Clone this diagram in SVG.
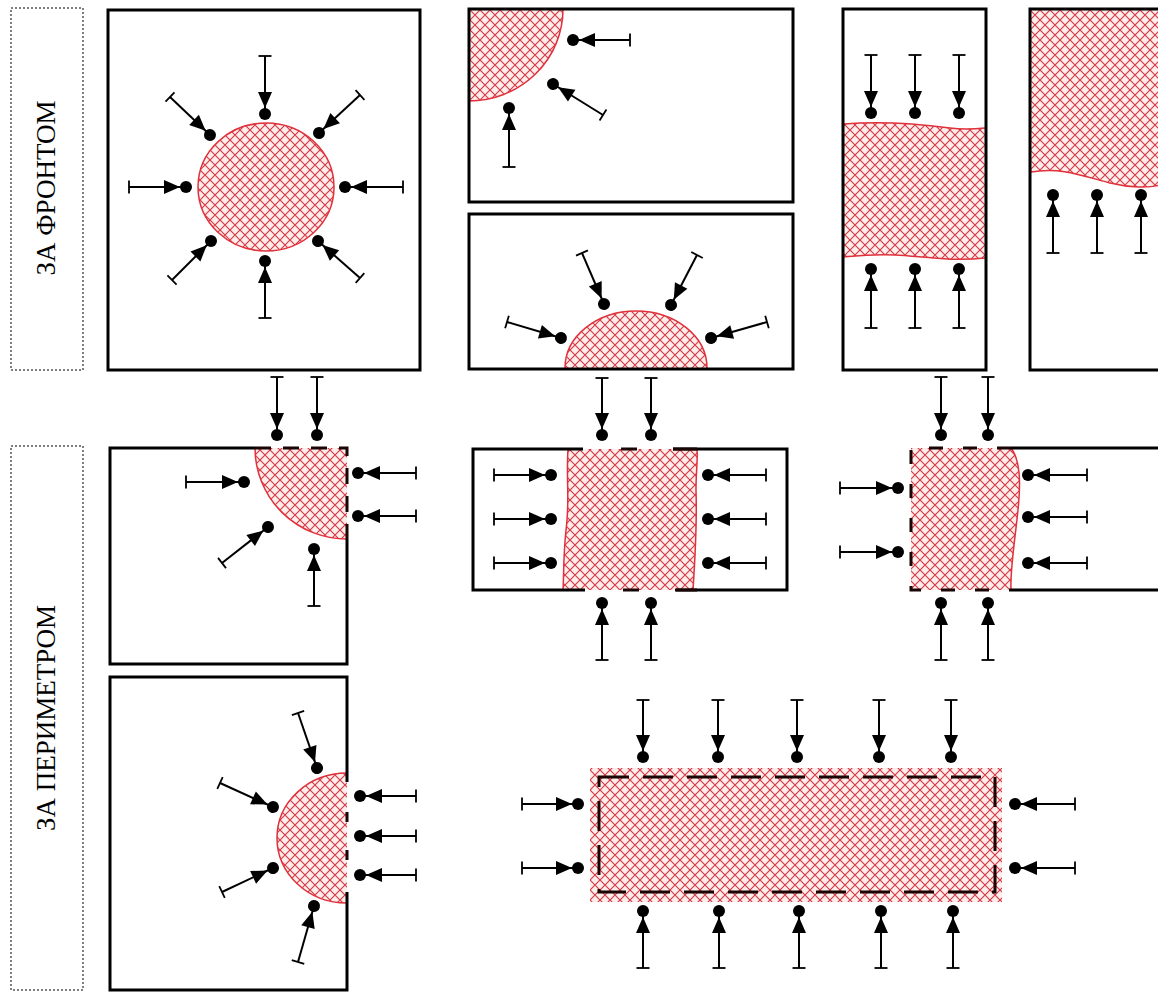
<svg xmlns="http://www.w3.org/2000/svg" width="1158" height="992" viewBox="0 0 1158 992">
<style>
.panel{fill:none;stroke:#000;stroke-width:3}
.hatch{fill:url(#xh);stroke:none}
.edge{fill:none;stroke:#e0303a;stroke-width:1.5}
.dash{fill:none;stroke:#1a0505;stroke-width:3;stroke-dasharray:16 12}
.lbl{fill:#fff;stroke:#555;stroke-width:1.5;stroke-dasharray:2 2}
.txt{font-family:"Liberation Serif","Times New Roman",serif;font-size:27px;fill:#000;text-anchor:middle}
.ar{fill:none;stroke:#000;stroke-width:2;marker-start:url(#tail);marker-end:url(#head)}
</style>
<defs>
<pattern id="xh" patternUnits="userSpaceOnUse" width="10" height="10">
<rect width="10" height="10" fill="#fdeeec"/>
<path d="M-1,-1 L11,11 M11,-1 L-1,11" stroke="#d63a48" stroke-width="1.2"/>
</pattern>
<marker id="head" viewBox="-24 -8 32 16" refX="0" refY="0" markerWidth="32" markerHeight="16" markerUnits="userSpaceOnUse" orient="auto">
<polygon points="-22,-7 -6,0 -22,7" fill="#000"/>
<circle cx="0" cy="0" r="6" fill="#000"/>
</marker>
<marker id="tail" viewBox="-2 -8 4 16" refX="0" refY="0" markerWidth="4" markerHeight="16" markerUnits="userSpaceOnUse" orient="auto">
<line x1="0" y1="-6.5" x2="0" y2="6.5" stroke="#000" stroke-width="1.8"/>
</marker>
</defs>
<rect width="1158" height="992" fill="#fff"/>

<g id="label-front">
<rect class="lbl" x="11" y="8" width="72" height="362"/>
<text class="txt" transform="translate(55,188) rotate(-90)">ЗА ФРОНТОМ</text>
</g>
<g id="label-perimeter">
<rect class="lbl" x="11" y="446" width="72" height="544"/>
<text class="txt" transform="translate(55,718) rotate(-90)">ЗА ПЕРИМЕТРОМ</text>
</g>

<g id="panel-a">
<ellipse class="hatch" cx="266" cy="187" rx="68" ry="64"/>
<ellipse class="edge" cx="266" cy="187" rx="68" ry="64"/>
<rect class="panel" x="108" y="10" width="312" height="360"/>
</g>

<g id="panel-b">
<path class="hatch" d="M469,9 L563,9 A94,92 0 0 1 469,101 Z"/>
<path class="edge" d="M563,9 A94,92 0 0 1 469,101"/>
<rect class="panel" x="469" y="9" width="324" height="193"/>
</g>

<g id="panel-c">
<path class="hatch" d="M565,368 A71,57 0 0 1 707,368 Z"/>
<path class="edge" d="M565,368 A71,57 0 0 1 707,368"/>
<rect class="panel" x="469" y="214" width="324" height="155"/>
</g>

<g id="panel-d">
<path class="hatch" d="M844,124 C880,121 920,124 950,128 C965,130 975,129 985,128 L985,258 C950,262 920,256 895,255 C870,254 855,256 844,257 Z"/>
<path class="edge" d="M844,124 C880,121 920,124 950,128 C965,130 975,129 985,128 M985,258 C950,262 920,256 895,255 C870,254 855,256 844,257"/>
<rect class="panel" x="843" y="9" width="143" height="361"/>
</g>

<g id="panel-e">
<path class="hatch" d="M1031,9 L1160,9 L1160,185 C1150,188 1130,188 1110,183 C1080,175 1060,167 1031,172 Z"/>
<path class="edge" d="M1160,185 C1150,188 1130,188 1110,183 C1080,175 1060,167 1031,172"/>
<rect class="panel" x="1030" y="9" width="200" height="361"/>
</g>

<g id="panel-f">
<path class="hatch" d="M255,448 A92,91 0 0 0 347,539 L347,448 Z"/>
<path class="edge" d="M255,448 A92,91 0 0 0 347,539"/>
<path class="panel" d="M255,448 L110,448 L110,664 L347,664 L347,539"/>
<path class="dash" d="M255,448 L347,448 L347,539"/>
</g>

<g id="panel-g">
<path class="hatch" d="M568,449 C566,480 570,500 566,530 C563,560 564,575 563,590 L693,590 C695,560 697,520 696,490 C696,470 698,460 697,449 Z"/>
<path class="edge" d="M568,449 C566,480 570,500 566,530 C563,560 564,575 563,590 M693,590 C695,560 697,520 696,490 C696,470 698,460 697,449"/>
<path class="panel" d="M583,449 L473,449 L473,590 L585,590 M673,449 L787,449 L787,590 L676,590"/>
<path class="dash" d="M583,449 L697,449 M585,590 L697,590" style="stroke-dasharray:0 38 16 36 30"/>
</g>

<g id="panel-h">
<path class="hatch" d="M911,448 L1011,448 C1020,460 1021,480 1018,510 C1015,540 1010,570 1011,590 L911,590 Z"/>
<path class="edge" d="M1011,448 C1020,460 1021,480 1018,510 C1015,540 1010,570 1011,590"/>
<path class="panel" d="M1011,448 L1160,448 M1011,590 L1160,590"/>
<path class="dash" d="M1011,448 L911,448 L911,590 L1011,590" style="stroke-dasharray:14 20"/>
</g>

<g id="panel-i">
<path class="hatch" d="M347,773 A70,65 0 0 0 347,903 Z"/>
<path class="edge" d="M347,773 A70,65 0 0 0 347,903"/>
<path class="panel" d="M347,782 L347,677 L110,677 L110,990 L347,990 L347,892"/>
<path class="dash" d="M347,782 L347,892" style="stroke-dasharray:0 30 10 28 10 40"/>
</g>

<g id="panel-j">
<rect class="hatch" x="590" y="768" width="412" height="134"/>
<rect class="dash" x="599" y="777" width="396" height="115" style="stroke-dasharray:30 14"/>
</g>

<g id="arrows">
<path class="ar" d="M265,56 L265,114"/>
<path class="ar" d="M265,318 L265,261"/>
<path class="ar" d="M129,187 L186,187"/>
<path class="ar" d="M403,187 L345,187"/>
<path class="ar" d="M170,97 L210,135"/>
<path class="ar" d="M360,95 L319,133"/>
<path class="ar" d="M172,280 L211,241"/>
<path class="ar" d="M360,278 L318,241"/>

<path class="ar" d="M630,40 L573,40"/>
<path class="ar" d="M603,115 L553,84"/>
<path class="ar" d="M509,167 L509,108"/>

<path class="ar" d="M507,322 L561,338"/>
<path class="ar" d="M582,253 L604,304"/>
<path class="ar" d="M697,255 L671,305"/>
<path class="ar" d="M767,322 L711,338"/>

<path class="ar" d="M871,55 L871,113"/>
<path class="ar" d="M915,55 L915,113"/>
<path class="ar" d="M959,55 L959,113"/>
<path class="ar" d="M871,328 L871,269"/>
<path class="ar" d="M915,328 L915,269"/>
<path class="ar" d="M959,328 L959,269"/>

<path class="ar" d="M1053,253 L1053,195"/>
<path class="ar" d="M1097,253 L1097,195"/>
<path class="ar" d="M1141,253 L1141,195"/>

<path class="ar" d="M277,377 L277,435"/>
<path class="ar" d="M317,377 L317,435"/>
<path class="ar" d="M416,473 L358,473"/>
<path class="ar" d="M416,516 L358,516"/>
<path class="ar" d="M186,482 L244,482"/>
<path class="ar" d="M222,563 L268,527"/>
<path class="ar" d="M314,606 L314,549"/>

<path class="ar" d="M602,378 L602,435"/>
<path class="ar" d="M651,378 L651,435"/>
<path class="ar" d="M602,660 L602,603"/>
<path class="ar" d="M651,660 L651,603"/>
<path class="ar" d="M494,475 L551,475"/>
<path class="ar" d="M494,519 L551,519"/>
<path class="ar" d="M494,563 L551,563"/>
<path class="ar" d="M766,475 L708,475"/>
<path class="ar" d="M766,519 L708,519"/>
<path class="ar" d="M766,563 L708,563"/>

<path class="ar" d="M941,377 L941,435"/>
<path class="ar" d="M988,377 L988,435"/>
<path class="ar" d="M941,660 L941,603"/>
<path class="ar" d="M988,660 L988,603"/>
<path class="ar" d="M840,488 L898,488"/>
<path class="ar" d="M840,552 L898,552"/>
<path class="ar" d="M1087,475 L1028,475"/>
<path class="ar" d="M1087,517 L1028,517"/>
<path class="ar" d="M1087,563 L1028,563"/>

<path class="ar" d="M416,796 L360,796"/>
<path class="ar" d="M416,836 L360,836"/>
<path class="ar" d="M416,875 L360,875"/>
<path class="ar" d="M298,713 L317,768"/>
<path class="ar" d="M220,783 L273,807"/>
<path class="ar" d="M222,892 L273,868"/>
<path class="ar" d="M298,962 L314,906"/>

<path class="ar" d="M643,700 L643,757"/>
<path class="ar" d="M718,700 L718,757"/>
<path class="ar" d="M797,700 L797,757"/>
<path class="ar" d="M879,700 L879,757"/>
<path class="ar" d="M951,700 L951,757"/>
<path class="ar" d="M643,968 L643,911"/>
<path class="ar" d="M719,968 L719,911"/>
<path class="ar" d="M799,968 L799,911"/>
<path class="ar" d="M881,968 L881,911"/>
<path class="ar" d="M953,968 L953,911"/>
<path class="ar" d="M522,804 L578,804"/>
<path class="ar" d="M522,868 L578,868"/>
<path class="ar" d="M1075,804 L1015,804"/>
<path class="ar" d="M1075,868 L1015,868"/>
</g>
</svg>
